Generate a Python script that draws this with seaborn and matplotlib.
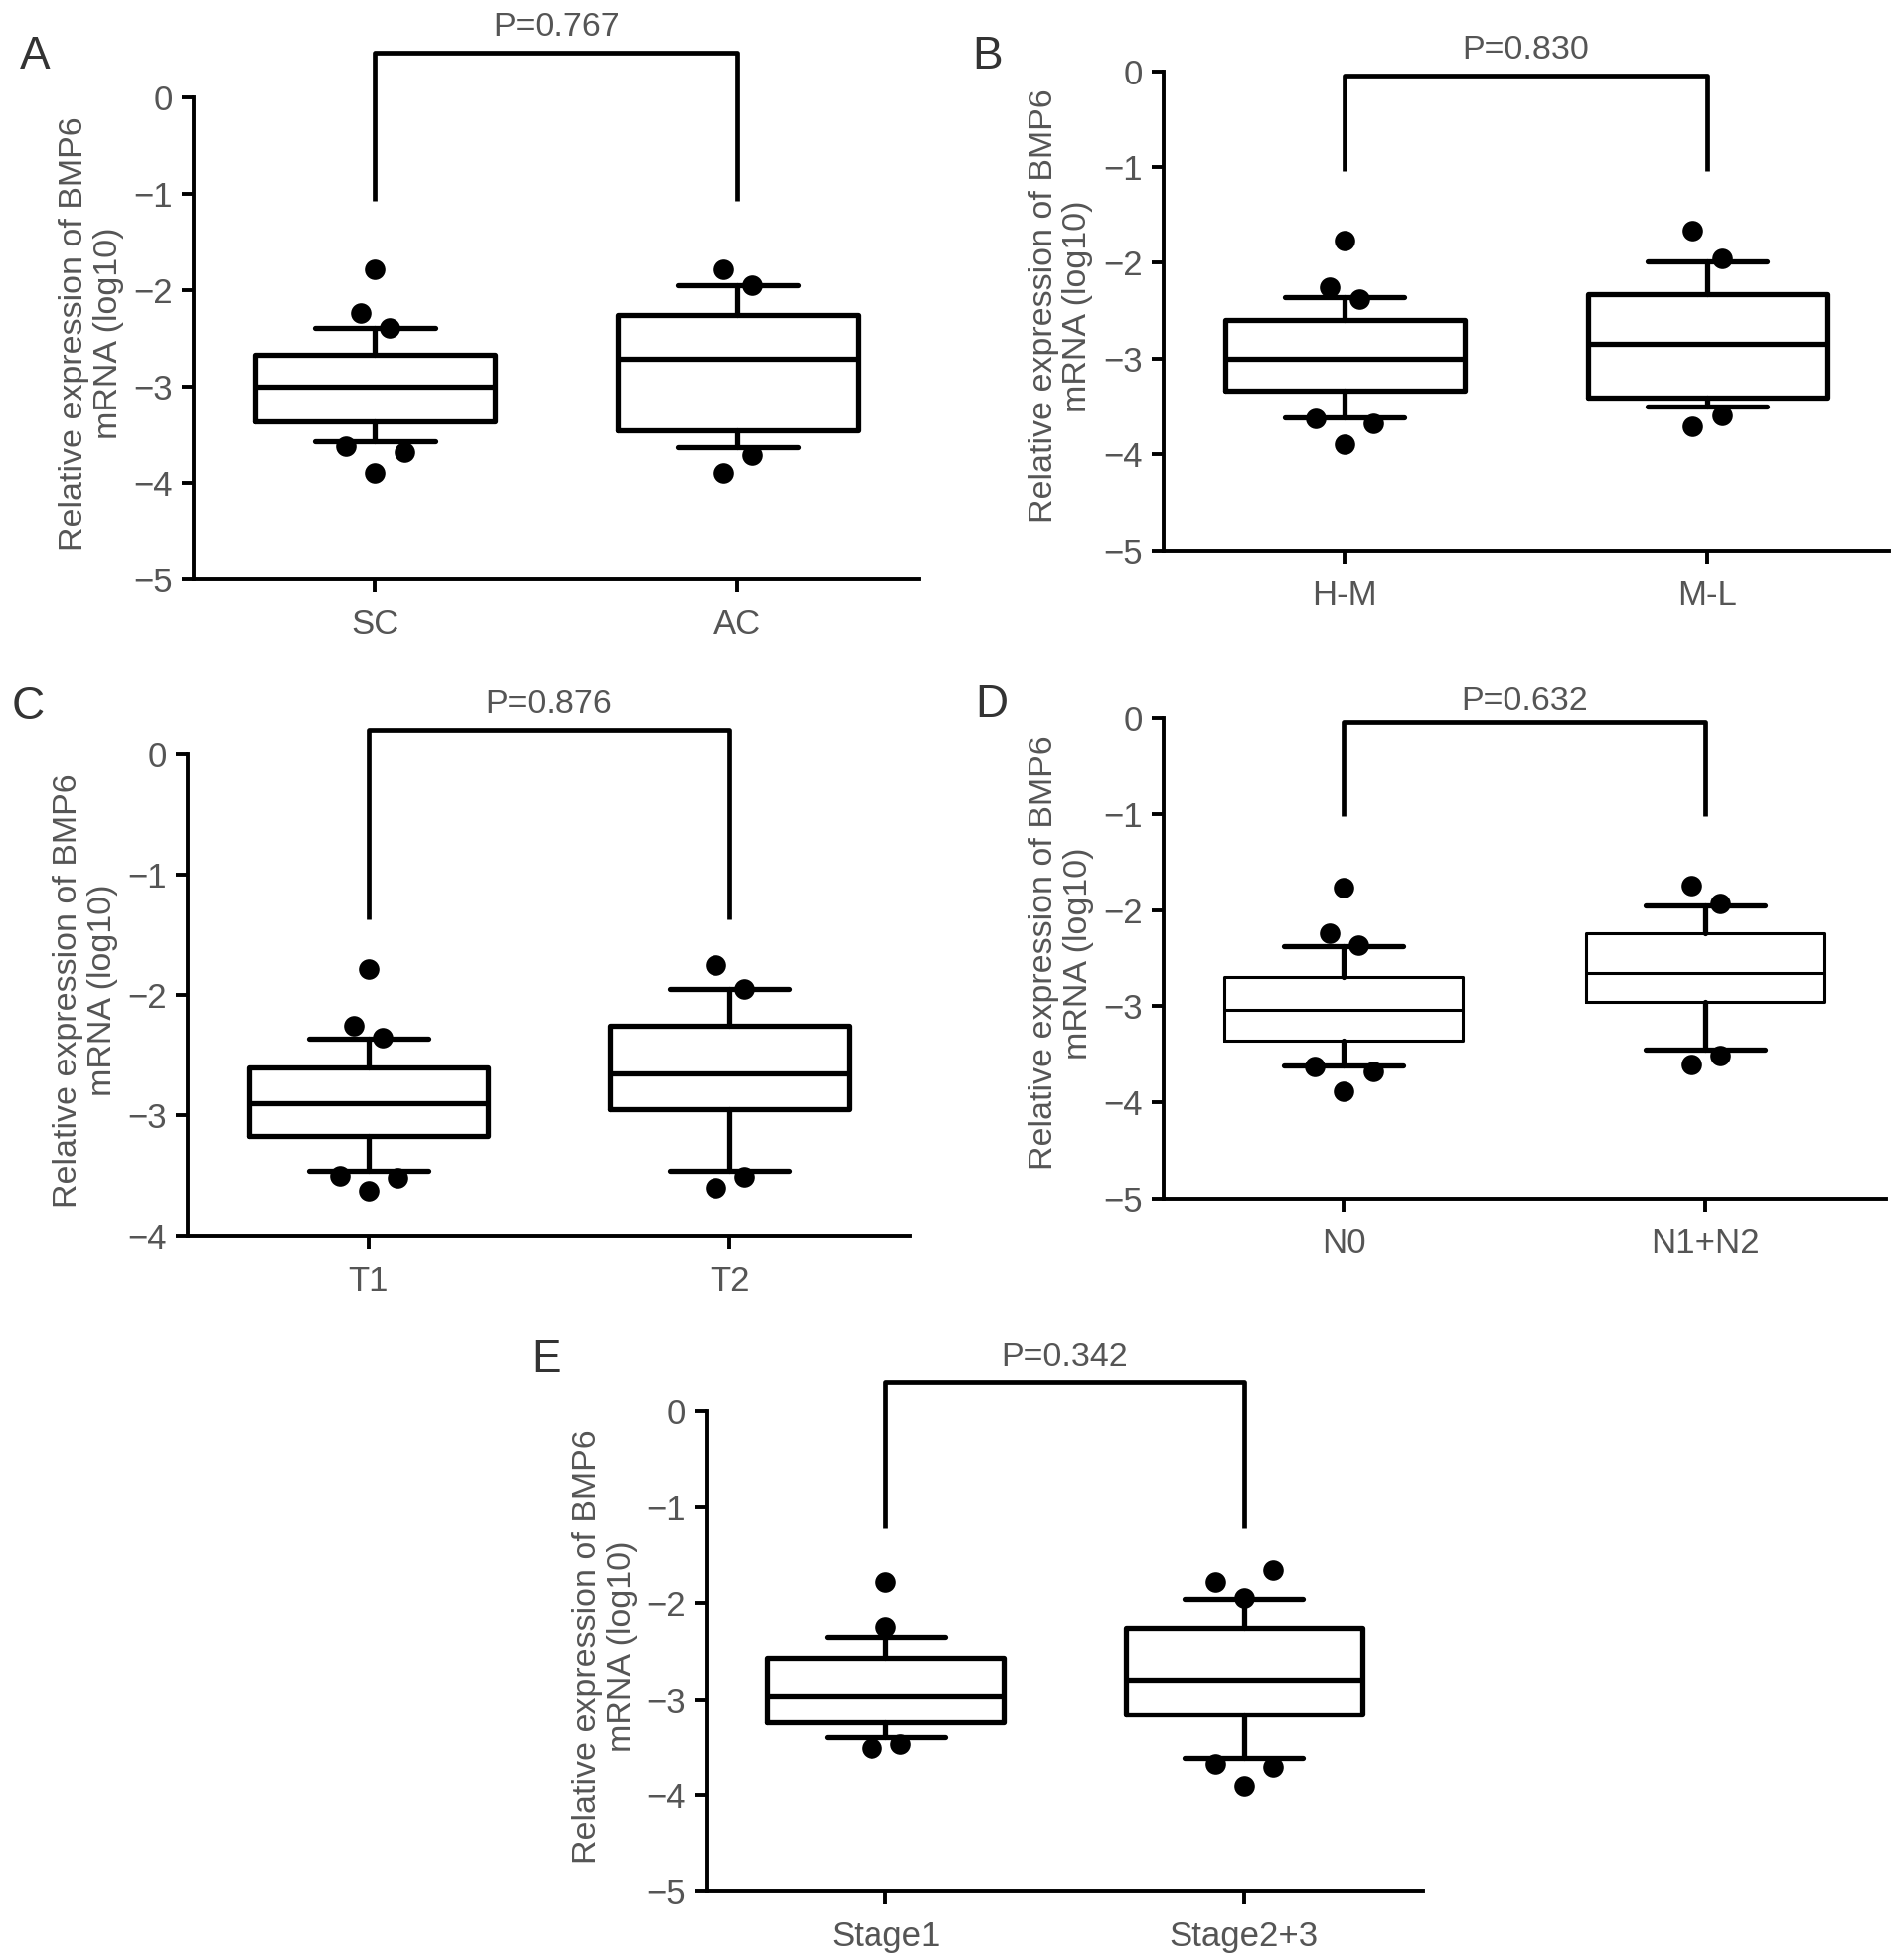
import matplotlib
matplotlib.use("Agg")
import matplotlib.pyplot as plt
import seaborn as sns
import numpy as np

# style
sns.set_style("ticks")
plt.rcParams['font.family'] = ['Liberation Sans', 'DejaVu Sans']
GRIS = '#555555'

# ---- données ----
# A
a_groupes = ["SC", "AC"]
a_q1 = [-3.36, -3.45]
a_med = [-3.00, -2.71]
a_q3 = [-2.67, -2.26]
a_bas = [-3.57, -3.63]
a_haut = [-2.39, -1.95]
a_points = [[-1.78, -2.24, -2.39, -3.62, -3.68, -3.90],
            [-1.78, -1.95, -3.71, -3.90]]
a_decal = [[0, -0.04, 0.04, -0.08, 0.08, 0],
           [-0.04, 0.04, 0.04, -0.04]]
a_p = "P=0.767"

# B
b_groupes = ["H-M", "M-L"]
b_q1 = [-3.33, -3.41]
b_med = [-3.00, -2.85]
b_q3 = [-2.60, -2.33]
b_bas = [-3.61, -3.50]
b_haut = [-2.36, -1.99]
b_points = [[-1.77, -2.25, -2.38, -3.62, -3.68, -3.89],
            [-1.66, -1.95, -3.71, -3.59]]
b_decal = [[0, -0.04, 0.04, -0.08, 0.08, 0],
           [-0.04, 0.04, -0.04, 0.04]]
b_p = "P=0.830"

# C
c_groupes = ["T1", "T2"]
c_q1 = [-3.17, -2.95]
c_med = [-2.90, -2.65]
c_q3 = [-2.60, -2.25]
c_bas = [-3.46, -3.46]
c_haut = [-2.36, -1.95]
c_points = [[-1.78, -2.25, -2.35, -3.50, -3.52, -3.62],
            [-1.75, -1.95, -3.60, -3.51]]
c_decal = [[0, -0.04, 0.04, -0.08, 0.08, 0],
           [-0.04, 0.04, -0.04, 0.04]]
c_p = "P=0.876"

# D
d_groupes = ["N0", "N1+N2"]
d_q1 = [-3.36, -2.96]
d_med = [-3.04, -2.66]
d_q3 = [-2.70, -2.24]
d_bas = [-3.62, -3.45]
d_haut = [-2.38, -1.95]
d_points = [[-1.77, -2.24, -2.37, -3.63, -3.68, -3.89],
            [-1.74, -1.93, -3.61, -3.51]]
d_decal = [[0, -0.04, 0.04, -0.08, 0.08, 0],
           [-0.04, 0.04, -0.04, 0.04]]
d_p = "P=0.632"

# E
e_groupes = ["Stage1", "Stage2+3"]
e_q1 = [-3.24, -3.16]
e_med = [-2.96, -2.80]
e_q3 = [-2.57, -2.26]
e_bas = [-3.40, -3.61]
e_haut = [-2.35, -1.96]
e_points = [[-1.78, -2.25, -3.51, -3.47],
            [-1.78, -1.66, -1.95, -3.68, -3.71, -3.90]]
e_decal = [[0, 0, -0.04, 0.04],
           [-0.08, 0.08, 0, -0.08, 0.08, 0]]
e_p = "P=0.342"

# crochets : (haut, bas des jambes, position du texte)
crochets = {'A': (0.46, -1.07, 0.73), 'B': (-0.05, -1.04, 0.22),
            'C': (0.21, -1.37, 0.42), 'D': (-0.04, -1.02, 0.17),
            'E': (0.31, -1.21, 0.56)}


def panneau(ax, groupes, q1, med, q3, bas, haut, points, decal, ptxt,
            cle, ymin, lw_boite=3.8):
    stats = []
    for i in range(len(groupes)):
        stats.append(dict(med=med[i], q1=q1[i], q3=q3[i],
                          whislo=bas[i], whishi=haut[i], fliers=[]))
    pos = list(range(len(groupes)))
    ax.bxp(stats, positions=pos, widths=0.66, capwidths=0.33,
           showfliers=False, manage_ticks=False,
           boxprops=dict(color='black', linewidth=lw_boite),
           medianprops=dict(color='black', linewidth=lw_boite),
           whiskerprops=dict(color='black', linewidth=3.8),
           capprops=dict(color='black', linewidth=3.8))

    # points hors moustaches
    xs, ys = [], []
    for i in range(len(groupes)):
        for v, d in zip(points[i], decal[i]):
            xs.append(i + d)
            ys.append(v)
    sns.scatterplot(x=xs, y=ys, ax=ax, color='black', s=220,
                    linewidth=0, zorder=4, legend=False)

    # crochet + p
    haut_c, jambe, ytxt = crochets[cle]
    ax.plot([0, 0, 1, 1], [jambe, haut_c, haut_c, jambe], color='black',
            lw=3.4, clip_on=False, solid_capstyle='butt', zorder=5)
    ax.text(0.5, ytxt, ptxt, ha='center', va='center', fontsize=24.5,
            color=GRIS, clip_on=False)

    ax.set_xlim(-0.5, 1.5)
    ax.set_ylim(ymin, 0)
    ax.set_yticks(np.arange(ymin, 1, 1))
    ax.set_xticks(pos)
    ax.set_xticklabels(groupes)
    ax.set_ylabel("Relative expression of BMP6\nmRNA (log10)",
                  fontsize=24.5, color=GRIS, linespacing=1.15)
    ax.yaxis.set_label_coords(-0.096, 0.51)
    sns.despine(ax=ax)
    for s in ['left', 'bottom']:
        ax.spines[s].set_linewidth(2.8)
        ax.spines[s].set_color('black')
    ax.tick_params(axis='both', direction='out', length=9, width=2.8,
                   color='black', labelsize=25, labelcolor=GRIS, pad=6)
    ax.tick_params(axis='x', pad=12)
    ax.patch.set_alpha(0)


fig = plt.figure(figsize=(19.13, 19.72), dpi=100)

ax_a = fig.add_axes([0.1019, 0.7044, 0.3816, 0.2459])
ax_b = fig.add_axes([0.6119, 0.7192, 0.3816, 0.2445])
ax_c = fig.add_axes([0.0987, 0.3694, 0.3803, 0.2457])
ax_d = fig.add_axes([0.6119, 0.3886, 0.3803, 0.2451])
ax_e = fig.add_axes([0.3717, 0.0350, 0.3769, 0.2451])

panneau(ax_a, a_groupes, a_q1, a_med, a_q3, a_bas, a_haut, a_points, a_decal, a_p, 'A', -5)
panneau(ax_b, b_groupes, b_q1, b_med, b_q3, b_bas, b_haut, b_points, b_decal, b_p, 'B', -5)
panneau(ax_c, c_groupes, c_q1, c_med, c_q3, c_bas, c_haut, c_points, c_decal, c_p, 'C', -4)
panneau(ax_d, d_groupes, d_q1, d_med, d_q3, d_bas, d_haut, d_points, d_decal, d_p, 'D', -5,
        lw_boite=2.2)
panneau(ax_e, e_groupes, e_q1, e_med, e_q3, e_bas, e_haut, e_points, e_decal, e_p, 'E', -5)

# lettres des panneaux
for lettre, (px, py) in {'A': (35, 57), 'B': (994, 57), 'C': (28, 711),
                         'D': (998, 709), 'E': (550, 1368)}.items():
    fig.text(px / 1913, 1 - py / 1972, lettre, fontsize=33, color='#333333',
             ha='center', va='center')

fig.savefig('out.png', dpi=100)
print("figure sauvegardée : out.png")
